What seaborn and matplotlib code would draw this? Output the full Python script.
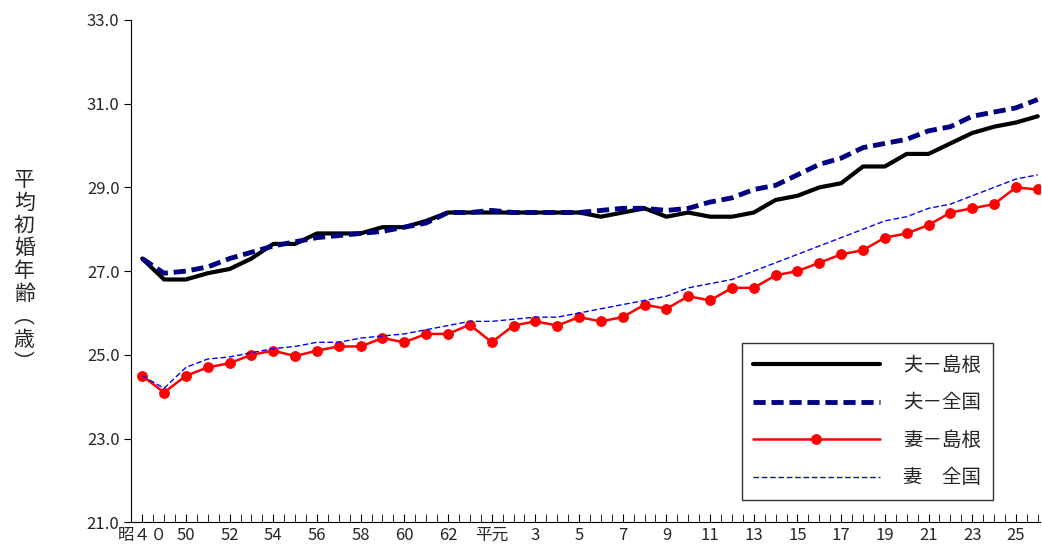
import numpy as np
import matplotlib
matplotlib.use('Agg')
import matplotlib.pyplot as plt
import seaborn as sns
import pandas as pd

sns.set_style('white')
plt.rcParams['font.family'] = ['Noto Sans CJK JP', 'DejaVu Sans']

# 昭40, 昭45, 昭50..63, 平1..26
years = ['昭40', '昭45'] + ['昭%d' % y for y in range(50, 64)] + ['平%d' % y for y in range(1, 27)]

husband_shimane = [27.3, 26.8, 26.8, 26.95, 27.05, 27.3, 27.65, 27.65, 27.9, 27.9, 27.9, 28.05, 28.05, 28.2,
                   28.4, 28.4, 28.4, 28.4, 28.4, 28.4, 28.4, 28.3, 28.4, 28.5, 28.3, 28.4, 28.3, 28.3,
                   28.4, 28.7, 28.8, 29.0, 29.1, 29.5, 29.5, 29.8, 29.8, 30.05, 30.3, 30.45, 30.55, 30.7]
husband_japan = [27.3, 26.95, 27.0, 27.1, 27.3, 27.45, 27.6, 27.7, 27.8, 27.85, 27.9, 27.95, 28.05, 28.15,
                 28.4, 28.4, 28.45, 28.4, 28.4, 28.4, 28.4, 28.45, 28.5, 28.5, 28.45, 28.5, 28.65, 28.75,
                 28.95, 29.05, 29.3, 29.55, 29.7, 29.95, 30.05, 30.15, 30.35, 30.45, 30.7, 30.8, 30.9, 31.1]
wife_shimane = [24.5, 24.1, 24.5, 24.7, 24.8, 25.0, 25.1, 24.97, 25.1, 25.2, 25.2, 25.4, 25.3, 25.5,
                25.5, 25.72, 25.3, 25.7, 25.8, 25.7, 25.9, 25.8, 25.9, 26.2, 26.1, 26.4, 26.3, 26.6,
                26.6, 26.9, 27.0, 27.2, 27.4, 27.5, 27.8, 27.9, 28.1, 28.4, 28.5, 28.6, 29.0, 28.95]
wife_japan = [24.5, 24.2, 24.7, 24.9, 24.95, 25.05, 25.15, 25.2, 25.3, 25.3, 25.4, 25.45, 25.5, 25.6,
              25.7, 25.8, 25.8, 25.85, 25.9, 25.9, 26.0, 26.1, 26.2, 26.3, 26.4, 26.6, 26.7, 26.8,
              27.0, 27.2, 27.4, 27.6, 27.8, 28.0, 28.2, 28.3, 28.5, 28.6, 28.8, 29.0, 29.2, 29.3]

tick_idx = [0, 2, 4, 6, 8, 10, 12, 14, 16, 18, 20, 22, 24, 26, 28, 30, 32, 34, 36, 38, 40]
tick_labels = ['昭４０', '50', '52', '54', '56', '58', '60', '62', '平元', '3', '5', '7', '9',
               '11', '13', '15', '17', '19', '21', '23', '25']
y_ticks = [21, 23, 25, 27, 29, 31, 33]

df = pd.DataFrame({'x': np.arange(len(years)), 'hs': husband_shimane, 'hj': husband_japan,
                   'ws': wife_shimane, 'wj': wife_japan})

fig = plt.figure(figsize=(10.42, 5.55), dpi=100)
ax = fig.add_axes([0.126, 0.059, 0.872, 0.905])

sns.lineplot(data=df, x='x', y='hs', ax=ax, color='black', lw=3, label='夫－島根')
sns.lineplot(data=df, x='x', y='hj', ax=ax, color='#000080', lw=3.5, dashes=False, label='夫－全国')
ax.lines[-1].set_linestyle((0, (2.5, 1.2)))
sns.lineplot(data=df, x='x', y='ws', ax=ax, color='red', lw=1.8, marker='o', markersize=7,
             markeredgecolor='red', label='妻－島根')
sns.lineplot(data=df, x='x', y='wj', ax=ax, color='blue', lw=1, label='妻　全国')
ax.lines[-1].set_linestyle((0, (4, 2)))

ax.set_xlim(-0.45, 41.1)
ax.set_ylim(21, 33)
ax.set_yticks(y_ticks)
ax.set_yticklabels(['%.1f' % v for v in y_ticks], fontsize=12)
ax.set_xticks(tick_idx)
ax.set_xticklabels(tick_labels, fontsize=12)
ax.set_xticks(np.arange(-0.5, 41.5, 0.5), minor=True)
ax.tick_params(axis='x', which='both', direction='in', length=6, color='black', bottom=True)
ax.tick_params(axis='y', direction='out', length=5, color='black', left=True)
ax.set_xlabel('')
ax.set_ylabel('平\n均\n初\n婚\n年\n齢\n︵\n歳\n︶', rotation=0, fontsize=15, va='center',
              linespacing=1.05, labelpad=45)
for s in ['top', 'right']:
    ax.spines[s].set_visible(False)
for s in ['left', 'bottom']:
    ax.spines[s].set_color('black')

leg = ax.legend(loc='lower right', bbox_to_anchor=(0.948, 0.044), fontsize=14, frameon=True,
                fancybox=False, edgecolor='black', handlelength=6.5, borderpad=0.6, labelspacing=0.85,
                handletextpad=1.2, borderaxespad=0)
leg.get_frame().set_linewidth(1)

fig.savefig('out.png', dpi=100)
